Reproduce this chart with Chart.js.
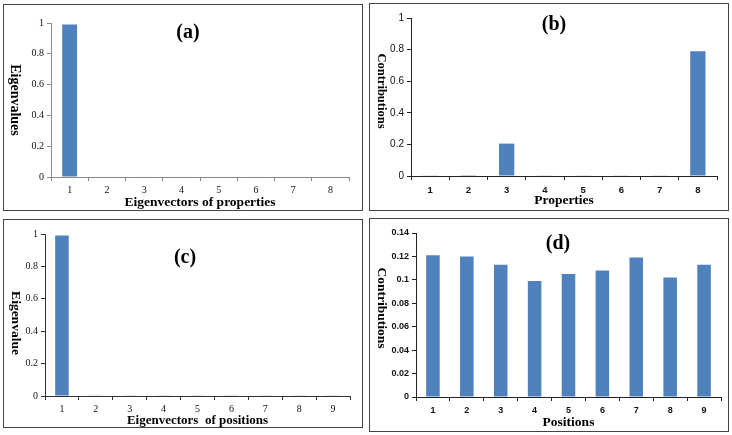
<!DOCTYPE html>
<html>
<head>
<meta charset="utf-8">
<script src="https://cdn.jsdelivr.net/npm/chart.js@4.4.0/dist/chart.umd.min.js"></script>
<style>
body { margin: 0; background: #fff; width: 732px; height: 435px; position: relative; overflow: hidden; }
.panel { position: absolute; border: 1px solid #444; box-sizing: border-box; background: #fff; }
.panel canvas { position: absolute; left: 0; top: 0; }
</style>
</head>
<body>
<div class="panel" id="pa" style="left:3px;top:4px;width:360px;height:207px"><canvas id="ca" width="358" height="205"></canvas></div>
<div class="panel" id="pb" style="left:369px;top:3px;width:360px;height:208px"><canvas id="cb" width="358" height="206"></canvas></div>
<div class="panel" id="pc" style="left:3px;top:219px;width:360px;height:209px"><canvas id="cc" width="358" height="207"></canvas></div>
<div class="panel" id="pd" style="left:369px;top:218px;width:360px;height:214px"><canvas id="cd" width="358" height="212"></canvas></div>
<script>
// data
var propLabels = ['1', '2', '3', '4', '5', '6', '7', '8'];
var posLabels = ['1', '2', '3', '4', '5', '6', '7', '8', '9'];

var eigenProps = [0.99, 0.003, 0.003, 0.003, 0.003, 0.003, 0.003, 0.003];
var contribProps = [0.002, 0.001, 0.205, 0.002, 0.002, 0.002, 0.002, 0.79];
var eigenPos = [0.99, 0.002, 0.002, 0.002, 0.002, 0.002, 0.002, 0.002, 0.002];
var contribPos = [0.121, 0.120, 0.113, 0.099, 0.105, 0.108, 0.119, 0.102, 0.113];

var unitTickLabels = ['0', '0.2', '0.4', '0.6', '0.8', '1'];
var smallTickLabels = ['0', '0.02', '0.04', '0.06', '0.08', '0.1', '0.12', '0.14'];

var barColor = '#4F81BD';
var serif = '"Liberation Serif", "DejaVu Serif", serif';
var sans = '"Liberation Sans", Arial, sans-serif';

// panel label + y title (y title reads top to bottom, so drawn here)
var panelText = {
    id: 'panelText',
    afterDraw: function (chart) {
        var o = chart.options.plugins.panelText;
        var ctx = chart.ctx;
        ctx.save();
        ctx.fillStyle = '#000';
        ctx.textAlign = 'center';
        ctx.textBaseline = 'middle';
        ctx.font = 'bold 20px ' + serif;
        ctx.fillText(o.label, o.labelX, o.labelY);
        ctx.translate(o.titleX, o.titleY);
        ctx.rotate(Math.PI / 2);
        ctx.font = 'bold ' + o.titleSize + 'px ' + serif;
        ctx.fillText(o.yTitle, 0, 0);
        ctx.restore();
    }
};

function makeChart(id, labels, values, yMax, step, tickLabels, p) {
    var ctx = document.getElementById(id).getContext('2d');
    return new Chart(ctx, {
        type: 'bar',
        data: {
            labels: labels,
            datasets: [{
                data: values,
                backgroundColor: barColor,
                borderWidth: 0,
                categoryPercentage: 1,
                barPercentage: 0.4
            }]
        },
        options: {
            responsive: false,
            animation: false,
            layout: { padding: { left: p.padLeft, right: p.padRight, top: p.padTop, bottom: 0 } },
            plugins: {
                legend: { display: false },
                tooltip: { enabled: false },
                panelText: p.text
            },
            scales: {
                x: {
                    grid: { display: true, drawOnChartArea: false, offset: true, tickLength: 4, color: p.axisColor },
                    border: { display: true, color: p.axisColor, width: 1 },
                    ticks: { color: '#111', padding: p.tickPad, maxRotation: 0, font: p.xFont },
                    title: { display: true, text: p.xTitle, color: '#000', padding: { top: 0, bottom: p.titlePad },
                        font: { family: serif, size: p.xTitleSize, weight: 'bold', lineHeight: 1 } },
                    afterFit: function (s) { s.height = p.xAxisH; }
                },
                y: {
                    min: 0,
                    max: yMax,
                    grid: { display: true, drawOnChartArea: false, tickLength: 4, color: p.axisColor },
                    border: { display: true, color: p.axisColor, width: 1 },
                    ticks: {
                        stepSize: step, color: '#111', padding: 3, font: p.yFont,
                        callback: function (v, i) { return tickLabels[i]; }
                    },
                    afterFit: function (s) { s.width = 34; }
                }
            }
        },
        plugins: [panelText]
    });
}

makeChart('ca', propLabels, eigenProps, 1, 0.2, unitTickLabels, {
    padLeft: 13, padRight: 13, padTop: 18, xAxisH: 33, tickPad: 3, titlePad: 1,
    axisColor: '#8a8a8a', xTitle: 'Eigenvectors of properties', xTitleSize: 13.5,
    xFont: { family: serif, size: 10 }, yFont: { family: serif, size: 10 },
    text: { label: '(a)', labelX: 184, labelY: 28, yTitle: 'Eigenvalues', titleX: 11, titleY: 95, titleSize: 14 }
});

makeChart('cb', propLabels, contribProps, 1, 0.2, unitTickLabels, {
    padLeft: 7, padRight: 11, padTop: 14, xAxisH: 34, tickPad: 5, titlePad: 3,
    axisColor: '#222', xTitle: 'Properties', xTitleSize: 13.5,
    xFont: { family: sans, size: 9.5, weight: 'bold' }, yFont: { family: sans, size: 10 },
    text: { label: '(b)', labelX: 184, labelY: 21, yTitle: 'Contributions', titleX: 11, titleY: 87, titleSize: 12.5 }
});

makeChart('cc', posLabels, eigenPos, 1, 0.2, unitTickLabels, {
    padLeft: 7, padRight: 12, padTop: 14, xAxisH: 31, tickPad: 3, titlePad: 0,
    axisColor: '#333', xTitle: 'Eigenvectors  of positions', xTitleSize: 13,
    xFont: { family: serif, size: 10 }, yFont: { family: serif, size: 10 },
    text: { label: '(c)', labelX: 181, labelY: 38, yTitle: 'Eigenvalue', titleX: 11, titleY: 103, titleSize: 13.5 }
});

makeChart('cd', posLabels, contribPos, 0.14, 0.02, smallTickLabels, {
    padLeft: 12, padRight: 7, padTop: 14, xAxisH: 34, tickPad: 4, titlePad: 2,
    axisColor: '#222', xTitle: 'Positions', xTitleSize: 13.5,
    xFont: { family: sans, size: 9, weight: 'bold' }, yFont: { family: sans, size: 9, weight: 'bold' },
    text: { label: '(d)', labelX: 188, labelY: 25, yTitle: 'Contributions', titleX: 11, titleY: 89, titleSize: 13.5 }
});
</script>
</body>
</html>
